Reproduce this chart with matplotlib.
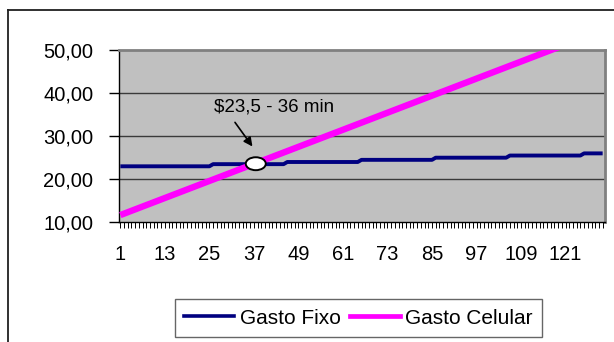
import matplotlib
matplotlib.use("Agg")
import matplotlib.pyplot as plt
from matplotlib.patches import Ellipse
from matplotlib.lines import Line2D
from matplotlib.ticker import FuncFormatter

plt.rcParams['font.family'] = ['Liberation Sans', 'DejaVu Sans']

# Minutes of use (category axis)
minutos = list(range(1, 132))

# Fixed plan cost per minute count
gasto_fixo = ([23.0] * 25 + [23.5] * 20 + [24.0] * 20 + [24.5] * 20 +
              [25.0] * 20 + [25.5] * 20 + [26.0] * 6)

# Mobile plan cost per minute count
gasto_celular = [
    11.68, 12.01, 12.34, 12.67, 13.00, 13.33, 13.66, 13.99, 14.32, 14.65,
    14.98, 15.31, 15.64, 15.97, 16.30, 16.63, 16.96, 17.29, 17.62, 17.95,
    18.28, 18.61, 18.94, 19.27, 19.60, 19.93, 20.26, 20.59, 20.92, 21.25,
    21.58, 21.91, 22.24, 22.57, 22.90, 23.23, 23.56, 23.89, 24.22, 24.55,
    24.88, 25.21, 25.54, 25.87, 26.20, 26.53, 26.86, 27.19, 27.52, 27.85,
    28.18, 28.51, 28.84, 29.17, 29.50, 29.83, 30.16, 30.49, 30.82, 31.15,
    31.48, 31.81, 32.14, 32.47, 32.80, 33.13, 33.46, 33.79, 34.12, 34.45,
    34.78, 35.11, 35.44, 35.77, 36.10, 36.43, 36.76, 37.09, 37.42, 37.75,
    38.08, 38.41, 38.74, 39.07, 39.40, 39.73, 40.06, 40.39, 40.72, 41.05,
    41.38, 41.71, 42.04, 42.37, 42.70, 43.03, 43.36, 43.69, 44.02, 44.35,
    44.68, 45.01, 45.34, 45.67, 46.00, 46.33, 46.66, 46.99, 47.32, 47.65,
    47.98, 48.31, 48.64, 48.97, 49.30, 49.63, 49.96, 50.29, 50.62, 50.95,
    51.28, 51.61, 51.94, 52.27, 52.60, 52.93, 53.26, 53.59, 53.92, 54.25,
    54.58,
]

x_labels = [str(m) for m in range(1, 122, 12)]
y_ticks = [10, 20, 30, 40, 50]

ponto_x, ponto_y = 37.5, 23.6
rotulo = "$23,5 - 36 min"

W, H = 614, 342
fig = plt.figure(figsize=(W / 100, H / 100), dpi=100)
fig.patch.set_facecolor("white")

# outer chart frame (left and top edges visible)
fig.add_artist(Line2D([8 / W, 8 / W], [0, 1 - 9.5 / H], transform=fig.transFigure,
                      color="#202020", lw=1.3))
fig.add_artist(Line2D([8 / W, 1], [1 - 9.5 / H, 1 - 9.5 / H], transform=fig.transFigure,
                      color="#202020", lw=1.3))

left, right, top, bottom = 118.5, 604.5, 50, 222.3
ax = fig.add_axes([left / W, 1 - bottom / H, (right - left) / W, (bottom - top) / H])
ax.set_facecolor("#C0C0C0")

ax.set_xlim(0.5, len(minutos) + 0.5)
ax.set_ylim(10, 50)

for y in y_ticks[1:-1]:
    ax.axhline(y, color="#3a3a3a", lw=1.0, zorder=1)

ax.plot(minutos, gasto_fixo, color="#000080", lw=2.8, zorder=3,
        solid_capstyle="butt", label="Gasto Fixo")
ax.plot(minutos, gasto_celular, color="#FF00FF", lw=4.6, zorder=4,
        solid_capstyle="butt", label="Gasto Celular")

ax.add_patch(Ellipse((ponto_x, ponto_y), width=5.4, height=3.0,
                     facecolor="white", edgecolor="black", lw=1.4, zorder=6))

ax.annotate("", xy=(36.6, 27.6), xytext=(31.9, 33.2),
            arrowprops=dict(arrowstyle="-|>", color="black", lw=1.2,
                            mutation_scale=13, shrinkA=0, shrinkB=0),
            zorder=7)
ax.text(42.3, 36.8, rotulo, ha="center", va="center", fontsize=13.5,
        color="black", parse_math=False, zorder=7)

# spines
for s in ("left", "bottom"):
    ax.spines[s].set_color("black")
    ax.spines[s].set_linewidth(1.0)
for s in ("top", "right"):
    ax.spines[s].set_color("#808080")
    ax.spines[s].set_linewidth(2.0)

ax.set_yticks(y_ticks)
ax.yaxis.set_major_formatter(FuncFormatter(lambda v, p: f"{v:.2f}".replace(".", ",")))
ax.tick_params(axis="y", direction="out", length=7, width=1, pad=11, labelsize=14.5)

ax.set_xticks(minutos)
ax.set_xticklabels([str(m) if (m - 1) % 12 == 0 else "" for m in minutos])
ax.tick_params(axis="x", direction="out", length=4, width=0.7, pad=12, labelsize=14.5)

leg_handles = [Line2D([], [], color="#000080", lw=2.6),
               Line2D([], [], color="#FF00FF", lw=3.4)]
leg = fig.legend(leg_handles, ["Gasto Fixo", "Gasto Celular"], ncol=2,
                 loc="center", bbox_to_anchor=(358.5 / W, 1 - 318 / H),
                 fontsize=15, frameon=True, fancybox=False, edgecolor="#404040",
                 handlelength=2.4, handletextpad=0.25, columnspacing=0.45,
                 borderpad=0.45, borderaxespad=0)
leg.get_frame().set_linewidth(1.0)

fig.savefig("out.png", dpi=100, facecolor="white")
